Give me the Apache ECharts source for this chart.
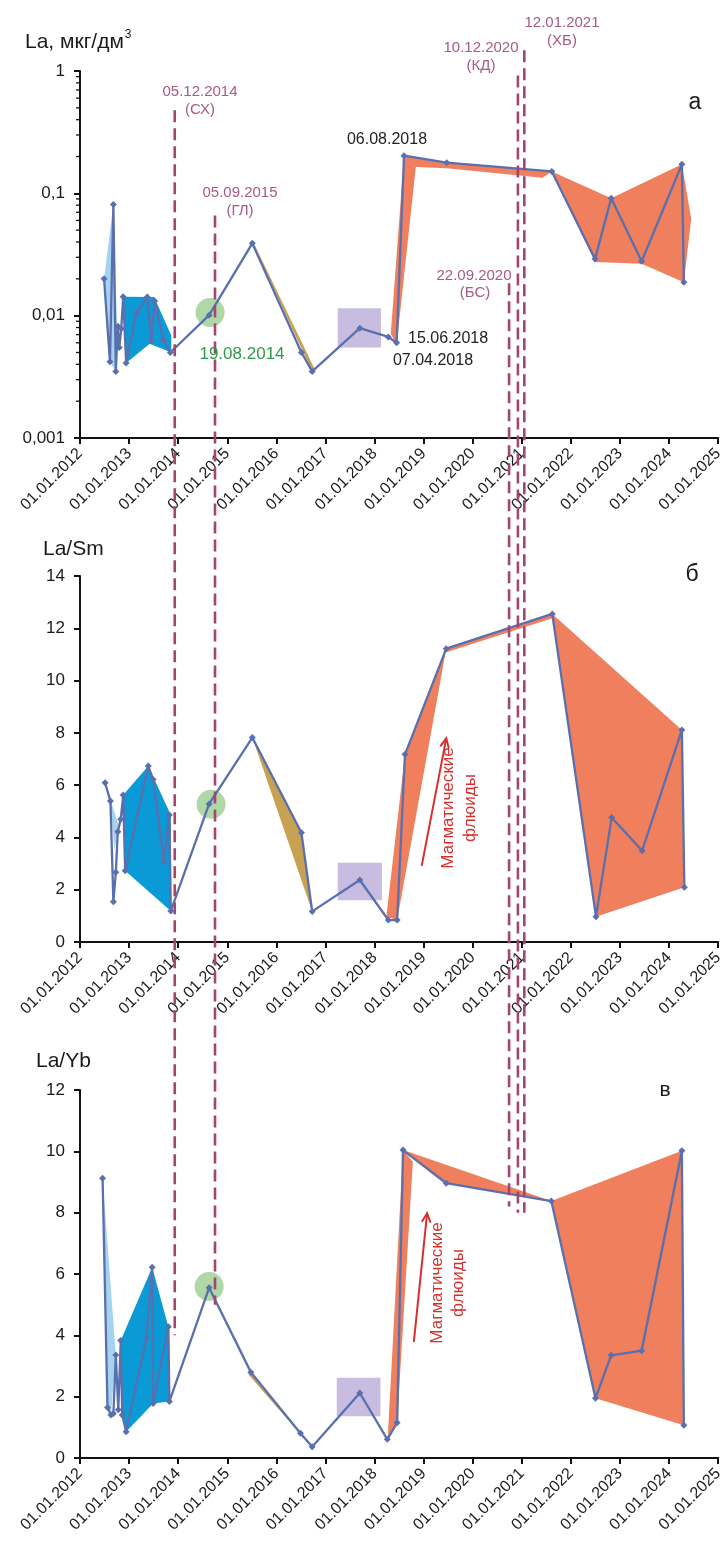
<!DOCTYPE html>
<html><head><meta charset="utf-8">
<script src="https://cdn.jsdelivr.net/npm/echarts@6/dist/echarts.min.js"></script>
<style>html,body{margin:0;padding:0;background:#fff}#c{width:726px;height:1543px}</style>
</head><body><div id="c"></div>
<script>
// ---------- axis ticks ----------
const yearTicks = [2012,2013,2014,2015,2016,2017,2018,2019,2020,2021,2022,2023,2024,2025];
const tickLabelPrefix = '01.01.';

// ---------- panel а : La, мкг/дм3 ----------
const datesLa = [2012.49,2012.61,2012.68,2012.73,2012.77,2012.80,2012.84,2012.88,2012.94,2013.15,2013.37,2013.45,2013.52,2013.70,2013.84,2014.63,2015.51,2016.51,2016.73,2017.70,2018.28,2018.45,2018.60,2019.47,2021.61,2022.49,2022.82,2023.44,2024.26,2024.30];
const valuesLa = [0.020,0.0042,0.081,0.0035,0.0082,0.0055,0.0078,0.0143,0.0041,0.0105,0.0142,0.0062,0.0132,0.0063,0.0050,0.0101,0.039,0.0050,0.0035,0.0079,0.0067,0.0060,0.203,0.178,0.151,0.029,0.091,0.0278,0.173,0.0188];

// ---------- panel б : La/Sm ----------
const datesLaSm = [2012.51,2012.62,2012.68,2012.73,2012.77,2012.83,2012.88,2012.92,2013.39,2013.49,2013.71,2013.82,2013.85,2014.63,2015.51,2016.51,2016.73,2017.70,2018.28,2018.46,2018.62,2019.46,2021.62,2022.51,2022.83,2023.45,2024.26,2024.31];
const valuesLaSm = [6.09,5.39,1.54,2.67,4.22,4.70,5.62,2.73,6.73,6.22,3.07,4.86,1.19,5.28,7.82,4.18,1.17,2.37,0.84,0.84,7.18,11.22,12.55,0.97,4.76,3.49,8.11,2.09];

// ---------- panel в : La/Yb ----------
const datesLaYb = [2012.46,2012.56,2012.63,2012.68,2012.73,2012.78,2012.83,2012.86,2012.94,2013.35,2013.47,2013.49,2013.80,2013.82,2014.63,2015.48,2016.49,2016.73,2017.70,2018.26,2018.46,2018.58,2019.46,2021.60,2022.50,2022.82,2023.44,2024.26,2024.30];
const valuesLaYb = [9.12,1.65,1.40,1.45,3.36,1.57,3.83,1.40,0.86,3.90,6.22,1.78,4.28,1.84,5.55,2.80,0.81,0.37,2.12,0.61,1.15,10.04,8.96,8.38,1.95,3.35,3.50,10.02,1.07];

// ---------- shaded regions (vertices as [date, value]) ----------
const lightBlueLa = [[2012.49,0.020],[2012.68,0.081],[2012.75,0.009],[2012.73,0.0035],[2012.61,0.0042]];
const blueLa = [[2012.88,0.0143],[2013.51,0.0142],[2013.86,0.0069],[2013.86,0.0050],[2013.42,0.0059],[2012.94,0.0041]];
const tanLa = [[2015.51,0.039],[2016.73,0.0035],[2016.79,0.0036],[2015.57,0.037]];
const orangeLaA = [[2018.33,0.0071],[2018.60,0.203],[2019.47,0.178],[2021.61,0.151],[2021.42,0.134],[2019.47,0.160],[2018.84,0.164],[2018.45,0.0058]];
const orangeLaB = [[2021.61,0.151],[2022.82,0.091],[2024.26,0.173],[2024.45,0.062],[2024.30,0.0188],[2023.44,0.0266],[2022.49,0.0274]];

const lightBlueSm = [[2012.51,6.09],[2012.79,4.45],[2012.70,3.5],[2012.62,5.39]];
const blueSm = [[2012.88,5.62],[2013.39,6.73],[2013.85,4.86],[2013.85,1.19],[2012.92,2.73]];
const tanSm = [[2015.51,7.82],[2016.51,4.18],[2016.73,1.17]];
const orangeSmA = [[2018.24,0.97],[2018.62,7.18],[2019.46,11.22],[2018.46,0.84]];
const orangeSmB = [[2019.46,11.22],[2021.62,12.55],[2021.62,12.38],[2019.46,11.08]];
const orangeSmC = [[2021.62,12.55],[2024.26,8.11],[2024.31,2.09],[2022.51,0.97]];

const lightBlueYb = [[2012.46,9.12],[2012.73,3.36],[2012.63,1.40],[2012.56,1.65]];
const blueYb = [[2012.83,3.83],[2013.47,6.22],[2013.80,4.28],[2013.82,1.84],[2013.49,1.78],[2012.94,0.86],[2012.86,1.40]];
const tanYb = [[2015.48,2.80],[2016.73,0.37],[2016.68,0.42],[2015.43,2.72]];
const orangeYbA = [[2018.27,0.70],[2018.58,10.04],[2018.78,9.66],[2018.46,1.15]];
const orangeYbB = [[2018.58,10.04],[2021.60,8.38],[2019.46,8.96]];
const orangeYbC = [[2021.60,8.38],[2024.26,10.02],[2024.30,1.07],[2022.50,1.95]];

// green spot (19.08.2014) and lavender box (2017-2018)
const greenSpot = [[2014.65,0.0106],[2014.67,5.27],[2014.63,5.59]];
const lavenderBox = [
  [[2017.25,0.0055],[2018.13,0.0115]],
  [[2017.25,1.60],[2018.15,3.03]],
  [[2017.23,1.36],[2018.12,2.62]]
];

// ---------- events (dashed vertical lines) ----------
const eventDates = [2013.93,2014.75,2020.74,2020.92,2021.05];
const eventTopLa = [0.477,0.066,0.0184,0.92,1.48];
const eventBottomYb = [4.0,5.0,8.2,8.0,8.0];
const eventLabels = ['05.12.2014','05.09.2015','22.09.2020','10.12.2020','12.01.2021'];
const eventCodes = ['(СХ)','(ГЛ)','(БС)','(КД)','(ХБ)'];

// arrows "Магматические флюиды"
const arrowSm = [[2018.96,2.91],[2019.46,7.79]];
const arrowYb = [[2018.80,3.79],[2019.07,7.98]];

// ---------- styles ----------
const FONT = 'Liberation Sans, Arial, sans-serif';
const LINE = '#5a6fae';
const C_LB = '#a4d2ef', C_B = '#0a9ad5', C_OR = '#ef7f5d', C_TAN = '#c9a152';
const C_GREEN = 'rgba(138,198,124,0.85)', C_LAV = 'rgba(190,178,218,0.85)';
const C_EVT = '#a3456f';

const chart = echarts.init(document.getElementById('c'), null, {renderer:'canvas'});

const grids = [
  {left:80, width:639, top:71, height:367},
  {left:80, width:639, top:576, height:366},
  {left:80, width:639, top:1090, height:368}
];

function xAxis(i){
  return {type:'value', gridIndex:i, min:yearTicks[0], max:yearTicks[yearTicks.length-1], interval:1,
    axisLine:{show:true, onZero:false, lineStyle:{color:'#111', width:2}},
    axisTick:{show:true, inside:false, length:6, lineStyle:{color:'#111', width:2}},
    splitLine:{show:false},
    axisLabel:{rotate:45, margin:13, fontSize:16, color:'#1a1a1a', fontFamily:FONT,
      formatter: v => tickLabelPrefix + v}
  };
}
function yAxisBase(i){
  return {gridIndex:i,
    axisLine:{show:true, lineStyle:{color:'#111', width:2}},
    axisTick:{show:true, inside:false, length:6, lineStyle:{color:'#111', width:2}},
    splitLine:{show:false},
    axisLabel:{fontSize:17, color:'#1a1a1a', fontFamily:FONT, margin:15}
  };
}
const yAxes = [
  Object.assign(yAxisBase(0), {type:'log', logBase:10, min:0.001, max:1,
    axisLabel:{fontSize:17, color:'#1a1a1a', fontFamily:FONT, margin:15, formatter: v => String(v).replace('.', ',')}}),
  Object.assign(yAxisBase(1), {type:'value', min:0, max:14, interval:2}),
  Object.assign(yAxisBase(2), {type:'value', min:0, max:12, interval:2})
];

function poly(i, verts, color, z){
  return {type:'custom', xAxisIndex:i, yAxisIndex:i, z:z||1, silent:true, data:verts,
    renderItem:(params, api) => {
      if (params.dataIndex !== 0) return;
      return {type:'polygon', shape:{points:verts.map(v => api.coord(v))}, style:{fill:color}};
    }};
}
function box(i, corners){
  return {type:'custom', xAxisIndex:i, yAxisIndex:i, z:1, silent:true, data:corners,
    renderItem:(params, api) => {
      if (params.dataIndex !== 0) return;
      const a = api.coord(corners[0]), b = api.coord(corners[1]);
      return {type:'rect', shape:{x:Math.min(a[0],b[0]), y:Math.min(a[1],b[1]),
        width:Math.abs(a[0]-b[0]), height:Math.abs(a[1]-b[1])}, style:{fill:C_LAV}};
    }};
}
function mainLine(i, dates, vals){
  return {type:'line', xAxisIndex:i, yAxisIndex:i, z:5, silent:true,
    data: dates.map((d,k) => [d, vals[k]]),
    symbol:'diamond', symbolSize:7, showSymbol:true,
    lineStyle:{color:LINE, width:2.3}, itemStyle:{color:LINE}, animation:false};
}
function spot(i){
  return {type:'scatter', xAxisIndex:i, yAxisIndex:i, z:2, silent:true, data:[greenSpot[i]],
    symbol:'circle', symbolSize:29, itemStyle:{color:C_GREEN}};
}
// minor ticks of the log axis (2..9 in each decade)
const minorTickValues = [];
[0.001,0.01,0.1].forEach(d => { for (let m=2; m<=9; m++) minorTickValues.push([yearTicks[0], +(m*d).toPrecision(3)]); });
const minorTicks = {type:'custom', xAxisIndex:0, yAxisIndex:0, z:6, silent:true, data:minorTickValues,
  renderItem:(params, api) => {
    const p = api.coord([api.value(0), api.value(1)]);
    return {type:'line', shape:{x1:p[0]-4, y1:p[1], x2:p[0], y2:p[1]}, style:{stroke:'#111', lineWidth:1.3}};
  }};

const series = [
  poly(0, lightBlueLa, C_LB), poly(0, blueLa, C_B), poly(0, tanLa, C_TAN), poly(0, orangeLaA, C_OR), poly(0, orangeLaB, C_OR),
  poly(1, lightBlueSm, C_LB), poly(1, blueSm, C_B), poly(1, tanSm, C_TAN), poly(1, orangeSmA, C_OR), poly(1, orangeSmB, C_OR), poly(1, orangeSmC, C_OR),
  poly(2, lightBlueYb, C_LB), poly(2, blueYb, C_B), poly(2, tanYb, C_TAN), poly(2, orangeYbA, C_OR), poly(2, orangeYbB, C_OR), poly(2, orangeYbC, C_OR),
  box(0, lavenderBox[0]), box(1, lavenderBox[1]), box(2, lavenderBox[2]),
  spot(0), spot(1), spot(2),
  mainLine(0, datesLa, valuesLa), mainLine(1, datesLaSm, valuesLaSm), mainLine(2, datesLaYb, valuesLaYb),
  minorTicks
];

function txt(x, y, s, size, color, align, extra){
  return Object.assign({type:'text', x:x, y:y, z:100, silent:true,
    style:Object.assign({text:s, fontSize:size, fontFamily:FONT, fill:color, align:align||'left', verticalAlign:'middle'}, extra||{})});
}

const staticGraphics = [
  {type:'text', x:25, y:42, z:100, silent:true, style:{text:'La, мкг/дм{s|3}', fontSize:21, fontFamily:FONT, fill:'#1a1a1a', verticalAlign:'middle',
     rich:{s:{fontSize:12, fontFamily:FONT, fill:'#1a1a1a', verticalAlign:'top', padding:[0,0,14,1]}}}},
  txt(43, 549, 'La/Sm', 21, '#1a1a1a'),
  txt(36, 1061, 'La/Yb', 21, '#1a1a1a'),
  txt(695, 103, 'а', 23, '#1a1a1a', 'center'),
  txt(692, 575, 'б', 23, '#1a1a1a', 'center'),
  txt(665, 1090, 'в', 21, '#1a1a1a', 'center'),
  txt(387, 140, '06.08.2018', 16, '#222', 'center'),
  txt(408, 339, '15.06.2018', 16, '#222', 'left'),
  txt(433, 361, '07.04.2018', 16, '#222', 'center'),
  txt(242, 354, '19.08.2014', 17, '#2f9a48', 'center'),
  {type:'text', x:459, y:808, rotation:Math.PI/2, z:100, silent:true,
    style:{text:'Магматические\nфлюиды', fontSize:17, lineHeight:22, fontFamily:FONT, fill:'#d7302c', align:'center', verticalAlign:'middle'}},
  {type:'text', x:448, y:1283, rotation:Math.PI/2, z:100, silent:true,
    style:{text:'Магматические\nфлюиды', fontSize:17, lineHeight:21, fontFamily:FONT, fill:'#d7302c', align:'center', verticalAlign:'middle'}}
];
const labelPos = [[200,92,200,110],[240,193,240,211],[474,276,475,293],[481,48,481,66],[562,23,562,41]];

chart.setOption({
  animation:false,
  backgroundColor:'#fff',
  grid:grids,
  xAxis:[xAxis(0), xAxis(1), xAxis(2)],
  yAxis:yAxes,
  series:series,
  graphic:staticGraphics
});

// dashed event lines & arrows, positioned through the chart's own scales
const dyn = [];
eventDates.forEach((d, k) => {
  const top = chart.convertToPixel({gridIndex:0}, [d, eventTopLa[k]]);
  const bot = chart.convertToPixel({gridIndex:2}, [d, eventBottomYb[k]]);
  dyn.push({type:'line', z:90, silent:true, shape:{x1:top[0], y1:top[1], x2:bot[0], y2:bot[1]},
    style:{stroke:C_EVT, lineWidth:2.6, lineDash:[12,6]}});
  const lp = labelPos[k];
  dyn.push(txt(lp[0], lp[1], eventLabels[k], 15, '#a65a86', 'center'));
  dyn.push(txt(lp[2], lp[3], eventCodes[k], 15, '#a65a86', 'center'));
});
function arrow(gi, pts){
  const a = chart.convertToPixel({gridIndex:gi}, pts[0]);
  const b = chart.convertToPixel({gridIndex:gi}, pts[1]);
  const ang = Math.atan2(b[1]-a[1], b[0]-a[0]);
  const L = 10, sp = 0.45;
  const h1 = [b[0] - L*Math.cos(ang - sp), b[1] - L*Math.sin(ang - sp)];
  const h2 = [b[0] - L*Math.cos(ang + sp), b[1] - L*Math.sin(ang + sp)];
  dyn.push({type:'line', z:95, silent:true, shape:{x1:a[0],y1:a[1],x2:b[0],y2:b[1]}, style:{stroke:'#d7302c', lineWidth:2}});
  dyn.push({type:'polyline', z:95, silent:true, shape:{points:[h1, b, h2]}, style:{stroke:'#d7302c', lineWidth:2, fill:null}});
}
arrow(1, arrowSm);
arrow(2, arrowYb);
chart.setOption({graphic: staticGraphics.concat(dyn)});
</script>
</body></html>
